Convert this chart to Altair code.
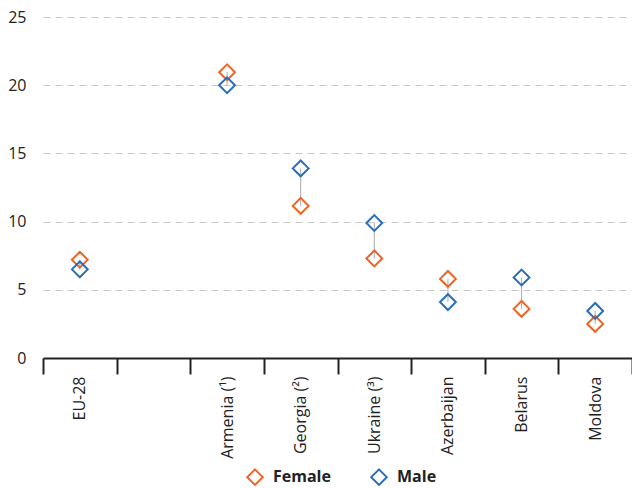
import altair as alt
import pandas as pd

categories = ["EU-28", " ", "Armenia (¹)", "Georgia (²)", "Ukraine (³)", "Azerbaijan", "Belarus", "Moldova"]
countries = ["EU-28", "Armenia (¹)", "Georgia (²)", "Ukraine (³)", "Azerbaijan", "Belarus", "Moldova"]
female = [7.2, 20.95, 11.15, 7.3, 5.8, 3.6, 2.5]
male = [6.5, 20.0, 13.9, 9.9, 4.1, 5.9, 3.45]
series = ["Female", "Male"]
colors = ["#F06423", "#286EB8"]

wide = pd.DataFrame({"country": countries, "Female": female, "Male": male})
long = pd.concat([
    pd.DataFrame({"country": countries, "sex": "Female", "value": female}),
    pd.DataFrame({"country": countries, "sex": "Male", "value": male}),
], ignore_index=True)

FONT = "Open Sans"

x_enc = alt.X(
    "country:N",
    scale=alt.Scale(type="band", domain=categories, paddingInner=0, paddingOuter=0),
    axis=alt.Axis(
        title=None, labelAngle=270, tickBand="extent", tickSize=16, tickWidth=2,
        tickColor="#222222", domainColor="#222222", domainWidth=2,
        labelPadding=2, labelFontSize=16, labelColor="#222222", labelFont=FONT,
        labelAlign="right", labelBaseline="middle", grid=False,
    ),
)
y_scale = alt.Scale(domain=[0, 25], nice=False)

rules = alt.Chart(wide).mark_rule(color="#aaaaaa", strokeWidth=1).encode(
    x=x_enc,
    y=alt.Y("Female:Q", scale=y_scale),
    y2="Male:Q",
)

points = alt.Chart(long).mark_point(shape="diamond", filled=False, size=250, strokeWidth=2, opacity=1).encode(
    x=x_enc,
    y=alt.Y(
        "value:Q", scale=y_scale,
        axis=alt.Axis(
            title=None, values=[0, 5, 10, 15, 20, 25], domain=False, ticks=False,
            gridDash=[7, 5], gridColor="#c8c8c8", gridWidth=1.2,
            labelPadding=17, labelFontSize=16, labelColor="#222222", labelFont=FONT,
        ),
    ),
    color=alt.Color(
        "sex:N",
        scale=alt.Scale(domain=series, range=colors),
        legend=alt.Legend(
            title=None, orient="none", legendX=203, legendY=451, direction="horizontal",
            symbolType="diamond", symbolSize=240, symbolStrokeWidth=2,
            labelFontSize=16, labelFontWeight="bold", labelFont=FONT, labelColor="#222222",
            labelOffset=9, columnPadding=36,
        ),
    ),
    order=alt.Order("sex:N"),
)

chart = alt.layer(rules, points).properties(
    width=589, height=341,
    autosize=alt.AutoSizeParams(type="none"),
    padding={"left": 35, "top": 9, "right": 0, "bottom": 130},
).configure_view(stroke=None)

chart.save("out.html", embed_options={"renderer": "svg", "actions": False})
